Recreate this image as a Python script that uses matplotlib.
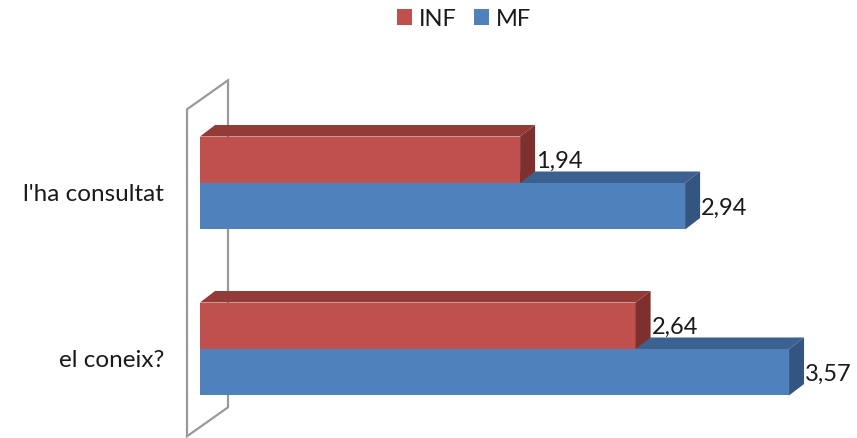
import matplotlib
matplotlib.use("Agg")
import matplotlib.pyplot as plt
from matplotlib.patches import Polygon

plt.rcParams['font.family'] = ['Lato', 'DejaVu Sans']

# Data
categories = ["el coneix?", "l'ha consultat"]
series_names = ["INF", "MF"]
inf_values = [2.64, 1.94]
mf_values = [3.57, 2.94]

# Colours: front / top / side faces
red_faces = ("#C0504D", "#943A37", "#7E302E")
blue_faces = ("#4F81BD", "#3C6190", "#34557F")

DPI = 100
W, H = 857, 439
fig = plt.figure(figsize=(W / DPI, H / DPI), dpi=DPI)
ax = fig.add_axes([200 / W, 11 / H, 643 / W, 327 / H])
ax.set_xlim(0, 643 / 165)
ax.set_ylim(-0.47, 1.5)
ax.axis("off")

bar_h = 0.28


def px_to_data(dx, dy):
    inv = ax.transData.inverted()
    x0, y0 = inv.transform((0, 0))
    x1, y1 = inv.transform((dx, dy))
    return x1 - x0, y1 - y0


# depth of each bar and of the back wall, in pixels
bdx, bdy = px_to_data(15, 11.5)
wfx, wfy = px_to_data(-13, -9.3)
wbx, wby = px_to_data(28, 19.7)

# back wall (outline only)
ylo, yhi = ax.get_ylim()
wall = Polygon([(wfx, ylo + wfy), (wfx, yhi + wfy), (wbx, yhi + wby), (wbx, ylo + wby)],
               closed=True, facecolor="white", edgecolor="#9a9a9a", lw=1.6,
               clip_on=False, zorder=1)
ax.add_patch(wall)


def bar3d(yc, value, faces, z):
    front, top_c, side_c = faces
    bot, top = yc - bar_h / 2, yc + bar_h / 2
    h = ax.barh(yc, value, height=bar_h, color=front, zorder=z)
    ax.add_patch(Polygon([(0, top), (value, top), (value + bdx, top + bdy), (bdx, top + bdy)],
                         closed=True, facecolor=top_c, edgecolor="none", zorder=z, clip_on=False))
    ax.add_patch(Polygon([(value, bot), (value, top), (value + bdx, top + bdy), (value + bdx, bot + bdy)],
                         closed=True, facecolor=side_c, edgecolor="none", zorder=z, clip_on=False))
    ax.annotate(f"{value:.2f}".replace(".", ","), xy=(value, yc), xytext=(16, -1),
                textcoords="offset pixels", ha="left", va="center", fontsize=17,
                color="#1a1a1a", zorder=10, annotation_clip=False)
    return h


handles = {}
for i, cat in enumerate(categories):
    handles["MF"] = bar3d(i - bar_h / 2, mf_values[i], blue_faces, 2 + 2 * i)
    handles["INF"] = bar3d(i + bar_h / 2, inf_values[i], red_faces, 3 + 2 * i)
    ax.annotate(cat, xy=(0, i), xytext=(-36, -11), textcoords="offset pixels",
                ha="right", va="center", fontsize=17.5, color="#1a1a1a",
                annotation_clip=False)

fig.legend([handles[n] for n in series_names], series_names, loc="center",
           bbox_to_anchor=(464 / W, 1 - 20 / H), ncol=2, frameon=False,
           fontsize=17, handlelength=0.64, handleheight=0.64, handletextpad=0.3,
           columnspacing=0.7, labelcolor="#1a1a1a", borderpad=0)

fig.savefig("out.png", dpi=DPI)
